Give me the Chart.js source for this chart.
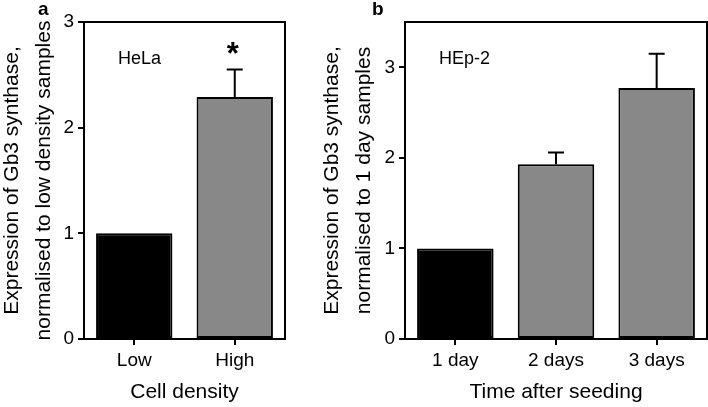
<!DOCTYPE html>
<html>
<head>
<meta charset="utf-8">
<script src="https://cdn.jsdelivr.net/npm/chart.js@4.4.0/dist/chart.umd.min.js"></script>
<style>
  body { margin: 0; background: #fff; }
  .panel { position: absolute; top: 0; }
</style>
</head>
<body>
<div class="panel" style="left:0"><canvas id="chart-hela" width="320" height="407"></canvas></div>
<div class="panel" style="left:320px"><canvas id="chart-hep2" width="388" height="407"></canvas></div>
<script>
// panel a - HeLa, low vs high cell density
const densityLabels = ['Low', 'High'];
const densityValues = [1.0, 2.29];
const densityErrors = [0, 0.26];
const densityStars = ['', '*'];
const densityTicks = [0, 1, 2, 3];

// panel b - HEp-2, days after seeding
const seedingLabels = ['1 day', '2 days', '3 days'];
const seedingValues = [1.0, 1.93, 2.77];
const seedingErrors = [0, 0.13, 0.38];
const seedingStars = ['', '', ''];
const seedingTicks = [0, 1, 2, 3];

const barColors = ['#000000', '#888888', '#888888'];

Chart.defaults.font.family = '"Liberation Sans", Arial, Helvetica, sans-serif';
Chart.defaults.color = '#000';

// error bars, frame, cell line name and panel letter
const figureExtras = {
    id: 'figureExtras',
    afterDatasetsDraw(chart, args, opts) {
        const ctx = chart.ctx;
        const area = chart.chartArea;
        const xs = chart.scales.x;
        const ys = chart.scales.y;
        const values = chart.data.datasets[0].data;
        ctx.save();
        ctx.strokeStyle = '#000';
        ctx.fillStyle = '#000';
        ctx.lineWidth = 2;

        values.forEach(function(v, i) {
            const err = opts.errors[i];
            if (!err) return;
            const px = xs.getPixelForValue(i);
            const top = ys.getPixelForValue(v + err);
            ctx.beginPath();
            ctx.moveTo(px, ys.getPixelForValue(v));
            ctx.lineTo(px, top);
            ctx.moveTo(px - 8, top);
            ctx.lineTo(px + 8, top);
            ctx.stroke();
            if (opts.stars[i]) {
                ctx.font = 'bold 31px ' + Chart.defaults.font.family;
                ctx.textAlign = 'center';
                ctx.textBaseline = 'alphabetic';
                ctx.fillText(opts.stars[i], px - 2, top - 6);
            }
        });

        // box round the plot
        ctx.strokeRect(area.left, area.top, area.width, area.height);

        ctx.font = '18px ' + Chart.defaults.font.family;
        ctx.textAlign = 'left';
        ctx.textBaseline = 'middle';
        ctx.fillText(opts.cellLine, area.left + 34, area.top + 37);

        ctx.font = 'bold 19px ' + Chart.defaults.font.family;
        ctx.textBaseline = 'alphabetic';
        ctx.fillText(opts.letter, opts.letterX, 15);
        ctx.restore();
    }
};

function makeBarChart(canvasId, cfg) {
    const ctx = document.getElementById(canvasId).getContext('2d');
    return new Chart(ctx, {
        type: 'bar',
        data: {
            labels: cfg.labels,
            datasets: [{
                data: cfg.values,
                backgroundColor: barColors.slice(0, cfg.values.length),
                borderColor: '#000',
                borderWidth: 2,
                borderSkipped: false,
                barPercentage: 0.76,
                categoryPercentage: 1
            }]
        },
        options: {
            responsive: false,
            animation: false,
            devicePixelRatio: 1,
            layout: {
                padding: { top: 22, right: cfg.padRight, left: 0, bottom: 0 }
            },
            plugins: {
                legend: { display: false },
                tooltip: { enabled: false },
                figureExtras: {
                    errors: cfg.errors,
                    stars: cfg.stars,
                    cellLine: cfg.cellLine,
                    letter: cfg.letter,
                    letterX: cfg.letterX
                }
            },
            scales: {
                x: {
                    afterFit: function(scale) { scale.height = 68; },
                    grid: { offset: false, drawOnChartArea: false, tickLength: 6, color: '#000', lineWidth: 2 },
                    border: { display: true, color: '#000', width: 2 },
                    ticks: { font: { size: 19 }, color: '#000', padding: 4 },
                    title: {
                        display: true,
                        text: cfg.xTitle,
                        font: { size: 21 },
                        color: '#000',
                        padding: { top: 0, bottom: 2 }
                    }
                },
                y: {
                    min: 0,
                    max: cfg.yMax,
                    afterBuildTicks: function(scale) {
                        scale.ticks = cfg.ticks.map(function(v) { return { value: v }; });
                    },
                    afterFit: function(scale) { scale.width = cfg.axisWidth; },
                    grid: { drawOnChartArea: false, tickLength: 6, color: '#000', lineWidth: 2 },
                    border: { display: true, color: '#000', width: 2 },
                    ticks: { font: { size: 19 }, color: '#000', padding: 4 },
                    title: {
                        display: true,
                        text: cfg.yTitle,
                        font: { size: 21, lineHeight: 1.52 },
                        color: '#000',
                        padding: { top: cfg.titleShift, bottom: 0 }
                    }
                }
            }
        },
        plugins: [figureExtras]
    });
}

document.addEventListener('DOMContentLoaded', function() {
    makeBarChart('chart-hela', {
        labels: densityLabels,
        values: densityValues,
        errors: densityErrors,
        stars: densityStars,
        ticks: densityTicks,
        yMax: 3,
        axisWidth: 84,
        padRight: 35,
        titleShift: -4,
        cellLine: 'HeLa',
        letter: 'a',
        letterX: 38,
        xTitle: 'Cell density',
        yTitle: ['Expression of Gb3 synthase,', 'normalised to low density samples']
    });

    makeBarChart('chart-hep2', {
        labels: seedingLabels,
        values: seedingValues,
        errors: seedingErrors,
        stars: seedingStars,
        ticks: seedingTicks,
        yMax: 3.5,
        axisWidth: 85,
        padRight: 1,
        titleShift: -4,
        cellLine: 'HEp-2',
        letter: 'b',
        letterX: 52,
        xTitle: 'Time after seeding',
        yTitle: ['Expression of Gb3 synthase,', 'normalised to 1 day samples']
    });
});
</script>
</body>
</html>
